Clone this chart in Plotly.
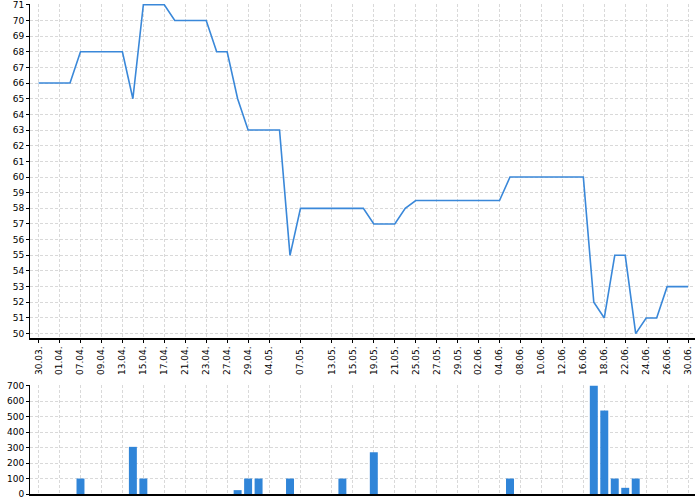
import plotly.graph_objects as go
from plotly.subplots import make_subplots

dates = ["30.03.","31.03.","01.04.","02.04.","07.04.","08.04.","09.04.","10.04.","13.04.","14.04.",
         "15.04.","16.04.","17.04.","20.04.","21.04.","22.04.","23.04.","24.04.","27.04.","28.04.",
         "29.04.","30.04.","04.05.","05.05.","06.05.","07.05.","08.05.","12.05.","13.05.","14.05.",
         "15.05.","16.05.","19.05.","20.05.","21.05.","22.05.","25.05.","26.05.","27.05.","28.05.",
         "29.05.","01.06.","02.06.","03.06.","04.06.","05.06.","08.06.","09.06.","10.06.","11.06.",
         "12.06.","15.06.","16.06.","17.06.","18.06.","19.06.","22.06.","23.06.","24.06.","25.06.",
         "26.06.","29.06.","30.06."]

prices = [66, 66, 66, 66, 68, 68, 68, 68, 68, 65,
          71, 71, 71, 70, 70, 70, 70, 68, 68, 65,
          63, 63, 63, 63, 55, 58, 58, 58, 58, 58,
          58, 58, 57, 57, 57, 58, 58.5, 58.5, 58.5, 58.5,
          58.5, 58.5, 58.5, 58.5, 58.5, 60, 60, 60, 60, 60,
          60, 60, 60, 52, 51, 55, 55, 50, 51, 51,
          53, 53, 53]

volumes = [0, 0, 0, 0, 100, 0, 0, 0, 0, 305,
           100, 0, 0, 0, 0, 0, 0, 0, 0, 25,
           100, 100, 0, 0, 100, 0, 0, 0, 0, 100,
           0, 0, 270, 0, 0, 0, 0, 0, 0, 0,
           0, 0, 0, 0, 0, 100, 0, 0, 0, 0,
           0, 0, 0, 700, 540, 100, 40, 100, 0, 0,
           0, 0, 0]

tick_dates = ["30.03.","01.04.","07.04.","09.04.","13.04.","15.04.","17.04.","21.04.","23.04.","27.04.",
              "29.04.","04.05.","07.05.","13.05.","15.05.","19.05.","21.05.","25.05.","27.05.","29.05.",
              "02.06.","04.06.","08.06.","10.06.","12.06.","16.06.","18.06.","22.06.","24.06.","26.06.",
              "30.06."]

price_ticks = list(range(50, 72))
volume_ticks = list(range(0, 800, 100))

fig = make_subplots(rows=2, cols=1, shared_xaxes=False, vertical_spacing=0.0)

fig.add_trace(go.Scatter(x=dates, y=prices, mode="lines",
                         line=dict(color="#3a88d9", width=1.6),
                         hoverinfo="x+y"), row=1, col=1)
fig.add_trace(go.Bar(x=dates, y=volumes, marker=dict(color="#3085d8", line=dict(width=0)),
                     ), row=2, col=1)

font = dict(family="DejaVu Sans", size=9, color="#000")
grid = dict(showgrid=True, gridcolor="#d9d9d9", griddash="3px,2px", gridwidth=1)

fig.update_layout(
    width=700, height=500,
    margin=dict(l=30, r=5, t=4, b=6),
    plot_bgcolor="white", paper_bgcolor="white",
    showlegend=False, bargap=0.24,
    font=font,
    xaxis=dict(domain=[0, 1], type="category", categoryorder="array", categoryarray=dates,
               range=[-0.82, 62.66], tickmode="array", tickvals=tick_dates, ticktext=tick_dates,
               tickangle=-90, ticks="outside", ticklen=3, tickcolor="#000", automargin=False,
               ticklabeloverflow="allow",
               showline=True, linecolor="#000", linewidth=1.5, tickfont=font, **grid),
    yaxis=dict(domain=[0.3184, 1.0], range=[49.72, 71.05], tickmode="array", tickvals=price_ticks,
               ticks="outside", ticklen=3, tickcolor="#000", showline=True, linecolor="#000",
               ticklabeloverflow="allow",
               linewidth=1, tickfont=font, zeroline=False, automargin=False, **grid),
    xaxis2=dict(domain=[0, 1], type="category", categoryorder="array", categoryarray=dates,
                range=[-0.82, 62.66], tickmode="array", tickvals=tick_dates, showticklabels=False,
                ticks="", showline=True, linecolor="#000", linewidth=1.5, automargin=False, **grid),
    yaxis2=dict(domain=[0, 0.2224], range=[0, 705], tickmode="array", tickvals=volume_ticks,
                ticks="outside", ticklen=3, tickcolor="#000", showline=True, linecolor="#000",
                ticklabeloverflow="allow",
                linewidth=1, tickfont=font, zeroline=False, automargin=False, **grid),
)

fig.write_html("out.html", config={"displayModeBar": False},
               post_script="document.body.style.margin='0';")
